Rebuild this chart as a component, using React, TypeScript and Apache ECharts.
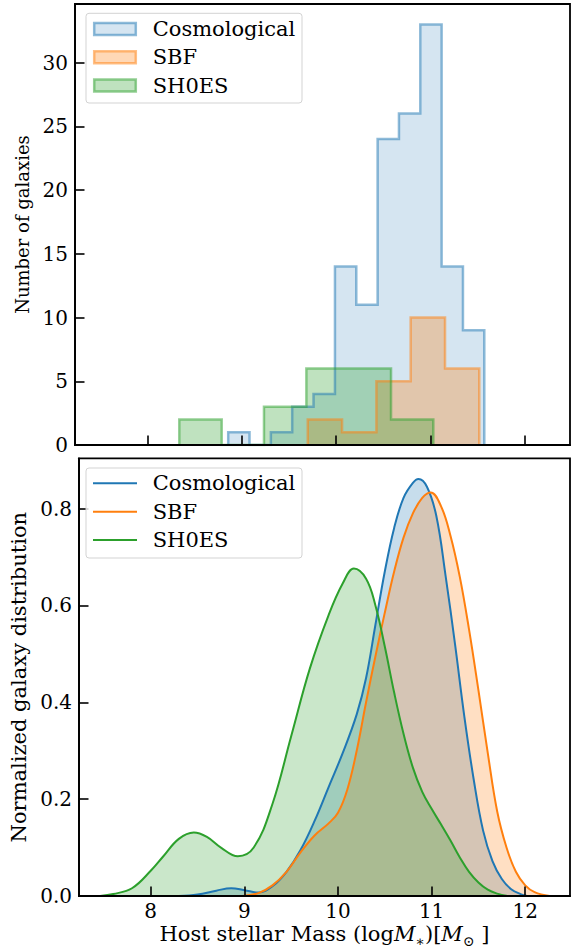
import React, { useEffect, useRef } from "react";
import * as echarts from "echarts";

// ---------- data ----------
const xTicks = [8, 9, 10, 11, 12];
const histYTicks = [0, 5, 10, 15, 20, 25, 30];
const kdeYTicks = [0, 0.2, 0.4, 0.6, 0.8];
const seriesNames = ["Cosmological", "SBF", "SH0ES"];

// histogram bin edges and counts
const cosmoEdges = [8.857, 9.083, 9.309, 9.535, 9.761, 9.988, 10.214, 10.44, 10.666, 10.892, 11.118, 11.344, 11.57];
const cosmoCounts = [1, 0, 1, 3, 4, 14, 11, 24, 26, 33, 14, 9];
const sbfEdges = [9.7, 10.063, 10.427, 10.79, 11.154, 11.517];
const sbfCounts = [2, 1, 5, 10, 6];
const shoesEdges = [8.339, 8.788, 9.236, 9.685, 10.133, 10.582, 11.03];
const shoesCounts = [2, 0, 3, 6, 6, 2];

// KDE curves (x, density)
const cosmoKdeX = [8.3, 8.5, 8.7, 8.86, 9.0, 9.15, 9.3, 9.45, 9.6, 9.75, 9.9, 10.05, 10.2, 10.3, 10.4, 10.5, 10.6, 10.7, 10.8, 10.86, 10.95, 11.05, 11.15, 11.25, 11.35, 11.45, 11.55, 11.65, 11.75, 11.85, 11.95, 12.02];
const cosmoKdeY = [0, 0.003, 0.011, 0.016, 0.012, 0.007, 0.02, 0.05, 0.095, 0.155, 0.225, 0.295, 0.375, 0.45, 0.56, 0.67, 0.76, 0.822, 0.853, 0.861, 0.845, 0.785, 0.66, 0.52, 0.37, 0.24, 0.135, 0.072, 0.035, 0.014, 0.004, 0];
const sbfKdeX = [8.98, 9.15, 9.3, 9.45, 9.6, 9.75, 9.9, 10.0, 10.1, 10.2, 10.3, 10.4, 10.5, 10.6, 10.7, 10.8, 10.9, 10.99, 11.1, 11.2, 11.3, 11.4, 11.5, 11.6, 11.7, 11.8, 11.9, 12.0, 12.1, 12.26];
const sbfKdeY = [0, 0.006, 0.022, 0.05, 0.09, 0.125, 0.15, 0.172, 0.22, 0.3, 0.4, 0.495, 0.585, 0.67, 0.74, 0.79, 0.822, 0.833, 0.805, 0.745, 0.66, 0.55, 0.425, 0.295, 0.175, 0.1, 0.05, 0.022, 0.008, 0];
const shoesKdeX = [7.46, 7.6, 7.8, 8.0, 8.135, 8.3, 8.46, 8.6, 8.75, 8.93, 9.1, 9.3, 9.5, 9.7, 9.9, 10.05, 10.17, 10.3, 10.4, 10.5, 10.6, 10.7, 10.8, 10.9, 11.0, 11.1, 11.2, 11.3, 11.4, 11.5, 11.6, 11.7, 11.81];
const shoesKdeY = [0, 0.004, 0.016, 0.052, 0.082, 0.118, 0.131, 0.122, 0.1, 0.082, 0.1, 0.19, 0.33, 0.47, 0.58, 0.645, 0.676, 0.655, 0.6, 0.515, 0.42, 0.335, 0.265, 0.215, 0.18, 0.148, 0.115, 0.08, 0.05, 0.028, 0.013, 0.005, 0];

// ---------- styling ----------
const FONT = "'DejaVu Serif', 'Liberation Serif', serif";
const X_MIN = 7.234;
const X_MAX = 12.478;
const HIST_Y_MAX = 34.6;
const KDE_Y_MAX = 0.9037;
const RGB = [
  [31, 119, 180],
  [255, 127, 14],
  [44, 160, 44],
];
const HIST_FILL_ALPHA = [0.19, 0.3, 0.3];
const HIST_EDGE_ALPHA = 0.5;
const rgba = (c: number[], a: number) => `rgba(${c[0]},${c[1]},${c[2]},${a})`;

function stepPoints(edges: number[], counts: number[]) {
  const pts: number[][] = [[edges[0], 0]];
  counts.forEach((c, i) => {
    pts.push([edges[i], c]);
    pts.push([edges[i + 1], c]);
  });
  pts.push([edges[edges.length - 1], 0]);
  return pts;
}
const zip = (xs: number[], ys: number[]) => xs.map((x, i) => [x, ys[i]]);

export default function App() {
  const ref = useRef<HTMLDivElement>(null);
  useEffect(() => {
    if (!ref.current) return;
    const chart = echarts.init(ref.current, undefined, { renderer: "svg" });

    const axisLine = { show: true, lineStyle: { color: "#000", width: 1.8 } };
    const tickStyle = { color: "#000", width: 1.6 };
    const tickFont = { fontFamily: FONT, fontSize: 20, color: "#000" };

    const hists = [
      [cosmoEdges, cosmoCounts],
      [sbfEdges, sbfCounts],
      [shoesEdges, shoesCounts],
    ];
    const kdes = [
      [cosmoKdeX, cosmoKdeY],
      [sbfKdeX, sbfKdeY],
      [shoesKdeX, shoesKdeY],
    ];

    const series: any[] = [];
    hists.forEach(([e, c], i) => {
      series.push({
        name: seriesNames[i],
        type: "line",
        xAxisIndex: 0,
        yAxisIndex: 0,
        data: stepPoints(e as number[], c as number[]),
        symbol: "none",
        silent: true,
        lineStyle: { color: rgba(RGB[i], HIST_EDGE_ALPHA), width: 2.5, join: "miter" },
        areaStyle: { color: rgba(RGB[i], HIST_FILL_ALPHA[i]), opacity: 1, origin: "start" },
      });
    });
    kdes.forEach(([xs, ys], i) => {
      series.push({
        name: seriesNames[i] + " KDE",
        type: "line",
        xAxisIndex: 1,
        yAxisIndex: 1,
        data: zip(xs as number[], ys as number[]),
        symbol: "none",
        smooth: 0.4,
        silent: true,
        lineStyle: { color: rgba(RGB[i], 1), width: 2 },
        areaStyle: { color: rgba(RGB[i], 0.25), opacity: 1, origin: "start" },
      });
    });

    // legends drawn as graphics
    const graphic: any[] = [];
    const legendRows = [28.9, 57.2, 85.5];
    const legendRows2 = [483.3, 511.7, 540];
    graphic.push({
      type: "rect",
      z: 100,
      shape: { x: 86, y: 13.3, width: 216, height: 89.7, r: 3 },
      style: { fill: "rgba(255,255,255,0.8)", stroke: "#d3d3d3", lineWidth: 1 },
    });
    graphic.push({
      type: "rect",
      z: 100,
      shape: { x: 86, y: 468, width: 216, height: 90, r: 3 },
      style: { fill: "rgba(255,255,255,0.8)", stroke: "#d3d3d3", lineWidth: 1 },
    });
    seriesNames.forEach((n, i) => {
      graphic.push({
        type: "rect",
        z: 101,
        shape: { x: 94.2, y: legendRows[i] - 6, width: 41.6, height: 12 },
        style: { fill: rgba(RGB[i], HIST_FILL_ALPHA[i]), stroke: rgba(RGB[i], HIST_EDGE_ALPHA), lineWidth: 2.5 },
      });
      graphic.push({
        type: "text",
        z: 101,
        x: 152.7,
        y: legendRows[i],
        style: { text: n, fontFamily: FONT, fontSize: 21, fill: "#000", verticalAlign: "middle", align: "left" },
      });
      graphic.push({
        type: "line",
        z: 101,
        shape: { x1: 93, y1: legendRows2[i], x2: 137, y2: legendRows2[i] },
        style: { stroke: rgba(RGB[i], 1), lineWidth: 2 },
      });
      graphic.push({
        type: "text",
        z: 101,
        x: 152.7,
        y: legendRows2[i],
        style: { text: n, fontFamily: FONT, fontSize: 21, fill: "#000", verticalAlign: "middle", align: "left" },
      });
    });

    const option: any = {
      animation: false,
      textStyle: { fontFamily: FONT },
      grid: [
        { left: 75, top: 4, width: 495, height: 441, show: true, borderColor: "#000", borderWidth: 1.8, backgroundColor: "transparent" },
        { left: 75, top: 458.3, width: 495, height: 441.7, show: true, borderColor: "#000", borderWidth: 1.8, backgroundColor: "transparent" },
      ],
      xAxis: [
        {
          type: "value",
          gridIndex: 0,
          min: X_MIN,
          max: X_MAX,
          z: 10,
          axisLine,
          axisTick: { show: true, inside: true, length: 9.5, lineStyle: tickStyle, customValues: xTicks },
          axisLabel: { show: false },
          splitLine: { show: false },
        },
        {
          type: "value",
          gridIndex: 1,
          min: X_MIN,
          max: X_MAX,
          z: 10,
          axisLine,
          axisTick: { show: true, inside: true, length: 9.5, lineStyle: tickStyle, customValues: xTicks },
          axisLabel: { show: true, ...tickFont, margin: 5, customValues: xTicks },
          splitLine: { show: false },
          name: "{a|Host stellar Mass (log}{i|M}{s|∗}{a|)[}{i|M}{s|⊙}{a| ]}",
          nameLocation: "middle",
          nameGap: 24,
          nameTextStyle: {
            fontFamily: FONT,
            rich: {
              a: { fontFamily: FONT, fontSize: 21, color: "#000", lineHeight: 28, verticalAlign: "middle" },
              i: { fontFamily: FONT, fontSize: 21, fontStyle: "italic", color: "#000", lineHeight: 28, verticalAlign: "middle" },
              s: { fontFamily: FONT, fontSize: 14, color: "#000", lineHeight: 14, verticalAlign: "bottom" },
            },
          },
        },
      ],
      yAxis: [
        {
          type: "value",
          gridIndex: 0,
          min: 0,
          max: HIST_Y_MAX,
          z: 10,
          axisLine,
          axisTick: { show: true, inside: true, length: 9.5, lineStyle: tickStyle, customValues: histYTicks },
          axisLabel: { show: true, ...tickFont, margin: 7, customValues: histYTicks },
          splitLine: { show: false },
          name: "Number of galaxies",
          nameLocation: "middle",
          nameGap: 40,
          nameTextStyle: { fontFamily: FONT, fontSize: 18, color: "#000" },
        },
        {
          type: "value",
          gridIndex: 1,
          min: 0,
          max: KDE_Y_MAX,
          z: 10,
          axisLine,
          axisTick: { show: true, inside: true, length: 9.5, lineStyle: tickStyle, customValues: kdeYTicks },
          axisLabel: {
            show: true,
            ...tickFont,
            margin: 7,
            customValues: kdeYTicks,
            formatter: (v: number) => v.toFixed(1),
          },
          splitLine: { show: false },
          name: "Normalized galaxy distribution",
          nameLocation: "middle",
          nameGap: 50,
          nameTextStyle: { fontFamily: FONT, fontSize: 21, color: "#000" },
        },
      ],
      series,
      graphic,
    };
    chart.setOption(option);
    return () => chart.dispose();
  }, []);

  return (
    <div
      ref={ref}
      style={{ position: "absolute", left: 0, top: 0, width: 571, height: 949, background: "#fff" }}
    />
  );
}
